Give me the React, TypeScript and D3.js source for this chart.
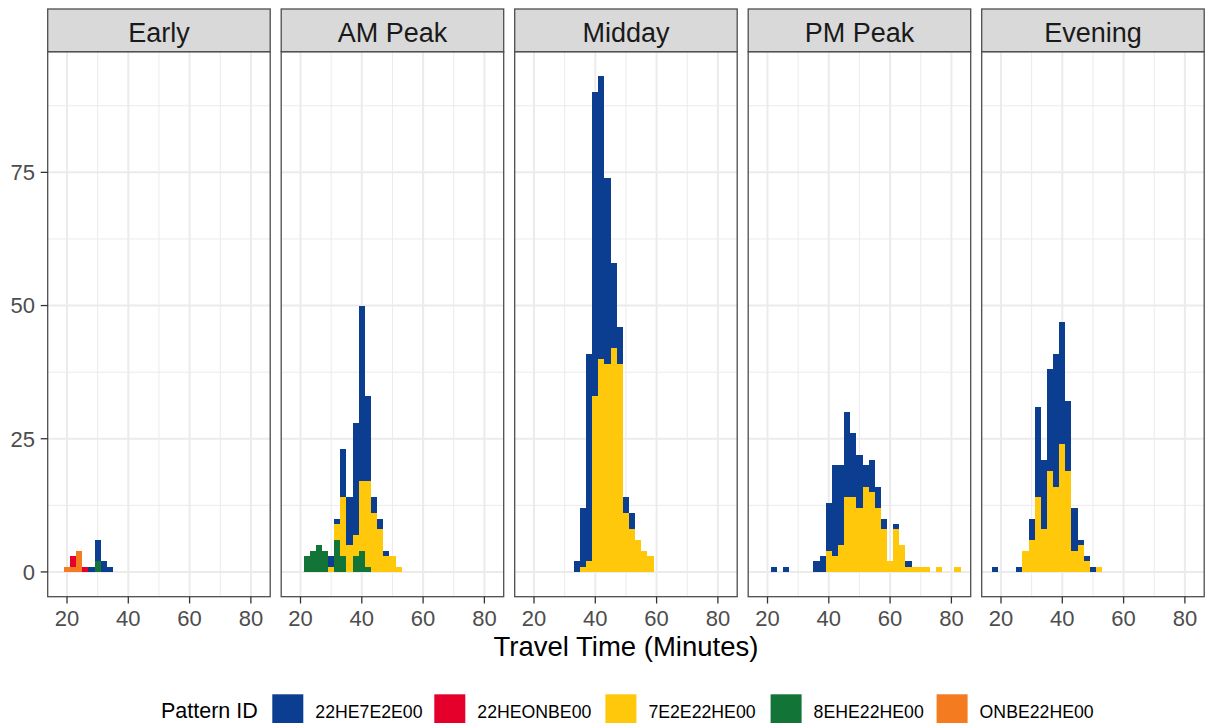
import React from "react";
import * as d3 from "d3";

// ---------- data ----------
const periods = ["Early", "AM Peak", "Midday", "PM Peak", "Evening"];
const patternIds = ["22HE7E2E00", "22HEONBE00", "7E2E22HE00", "8EHE22HE00", "ONBE22HE00"];
const patternColors = ["#0B3D91", "#E4002B", "#FFC80B", "#127437", "#F47B20"];

const binLowerEdges = [17, 19, 21, 23, 25, 27, 29, 31, 33, 35, 37, 39, 41, 43, 45, 47, 49, 51, 53, 55, 57, 59, 61, 63, 65, 67, 69, 71, 73, 75, 77, 79, 81];
const binWidth = 2;

const xMajorTicks = [20, 40, 60, 80];
const xMinorTicks = [30, 50, 70];
const yMajorTicks = [0, 25, 50, 75];
const yMinorTicks = [12.5, 37.5, 62.5, 87.5];

// counts: [bin lower edge, count]
const earlyCounts: Record<string, [number, number][]> = {
  "22HE7E2E00": [[27, 1], [29, 4], [31, 2], [33, 1]],
  "22HEONBE00": [[21, 2], [25, 1]],
  "7E2E22HE00": [],
  "8EHE22HE00": [[29, 2]],
  "ONBE22HE00": [[19, 1], [21, 1], [23, 4]],
};
const amPeakCounts: Record<string, [number, number][]> = {
  "22HE7E2E00": [[29, 2], [31, 1], [33, 9], [35, 9], [37, 21], [39, 33], [41, 16], [43, 3], [45, 2], [47, 1]],
  "22HEONBE00": [],
  "7E2E22HE00": [[29, 1], [31, 3], [33, 11], [35, 5], [37, 4], [39, 13], [41, 16], [43, 11], [45, 8], [47, 3], [49, 3], [51, 1]],
  "8EHE22HE00": [[21, 3], [23, 4], [25, 5], [27, 4], [31, 6], [33, 3], [37, 3], [39, 4], [41, 1]],
  "ONBE22HE00": [],
};
const middayCounts: Record<string, [number, number][]> = {
  "22HE7E2E00": [[33, 2], [35, 11], [37, 39], [39, 57], [41, 53], [43, 35], [45, 16], [47, 7], [49, 3], [51, 3]],
  "22HEONBE00": [],
  "7E2E22HE00": [[35, 1], [37, 2], [39, 33], [41, 40], [43, 39], [45, 42], [47, 39], [49, 11], [51, 8], [53, 6], [55, 4], [57, 3]],
  "8EHE22HE00": [],
  "ONBE22HE00": [],
};
const pmPeakCounts: Record<string, [number, number][]> = {
  "22HE7E2E00": [[21, 1], [25, 1], [35, 2], [37, 3], [39, 9], [41, 17], [43, 15], [45, 16], [47, 12], [49, 10], [51, 4], [53, 6], [55, 4], [57, 2], [61, 1], [65, 1]],
  "22HEONBE00": [],
  "7E2E22HE00": [[39, 4], [41, 3], [43, 5], [45, 14], [47, 14], [49, 12], [51, 16], [53, 15], [55, 12], [57, 8], [59, 2], [61, 8], [63, 5], [65, 1], [67, 1], [69, 1], [71, 1], [75, 1], [81, 1]],
  "8EHE22HE00": [],
  "ONBE22HE00": [],
};
const eveningCounts: Record<string, [number, number][]> = {
  "22HE7E2E00": [[17, 1], [25, 1], [29, 4], [31, 17], [33, 13], [35, 19], [37, 25], [39, 23], [41, 13], [43, 8], [45, 1], [47, 1], [49, 1]],
  "22HEONBE00": [],
  "7E2E22HE00": [[27, 4], [29, 6], [31, 14], [33, 8], [35, 19], [37, 16], [39, 24], [41, 19], [43, 4], [45, 5], [47, 2], [51, 1]],
  "8EHE22HE00": [],
  "ONBE22HE00": [],
};
const panelCounts = [earlyCounts, amPeakCounts, middayCounts, pmPeakCounts, eveningCounts];

// ---------- layout ----------
const W = 1206;
const H = 723;
const FONT = "'Liberation Sans', Arial, Helvetica, sans-serif";
const panelLeft0 = 47.7;
const panelW = 222.5;
const panelStep = 233.5;
const panelTop = 51.7;
const panelBottom = 596.7;
const stripTop = 9;
const legendTitleX = 161;
const legendKeyX = [272.3, 434.3, 605.4, 770.6, 936.6];
const legendKeySize = 31;
const legendKeyTop = 694.3;

function buildTable(counts: Record<string, [number, number][]>) {
  return binLowerEdges.map((b) => {
    const row: any = { bin: b };
    patternIds.forEach((p) => {
      const hit = counts[p].find((d) => d[0] === b);
      row[p] = hit ? hit[1] : 0;
    });
    return row;
  });
}

export default function App() {
  const tables = panelCounts.map(buildTable);
  const stackGen = d3.stack<any>().keys([...patternIds].reverse());
  const stacks = tables.map((t) => stackGen(t));

  const xLo = d3.min(binLowerEdges)!;
  const xHi = d3.max(binLowerEdges)! + binWidth;
  const xPad = (xHi - xLo) * 0.05;
  const yMax = d3.max(tables.flat(), (r: any) => d3.sum(patternIds, (p) => r[p]))!;
  const yScale = d3.scaleLinear().domain([-0.05 * yMax, yMax * 1.05]).range([panelBottom, panelTop]);

  const gridMajor = "#EBEBEB";
  const border = "#4D4D4D";

  return (
    <svg width={W} height={H} style={{ position: "absolute", left: 0, top: 0, background: "#fff" }} fontFamily={FONT}>
      <rect x={0} y={0} width={W} height={H} fill="#fff" />
      {periods.map((period, pi) => {
        const left = panelLeft0 + pi * panelStep;
        const xScale = d3.scaleLinear().domain([xLo - xPad, xHi + xPad]).range([left, left + panelW]);
        const colorOf = (key: string) => patternColors[patternIds.indexOf(key)];
        return (
          <g key={period}>
            {/* panel background & grid */}
            <rect x={left} y={panelTop} width={panelW} height={panelBottom - panelTop} fill="#fff" />
            {yMinorTicks.map((t) => (
              <line key={"ym" + t} x1={left} x2={left + panelW} y1={yScale(t)} y2={yScale(t)} stroke={gridMajor} strokeWidth={1} />
            ))}
            {xMinorTicks.map((t) => (
              <line key={"xm" + t} x1={xScale(t)} x2={xScale(t)} y1={panelTop} y2={panelBottom} stroke={gridMajor} strokeWidth={1} />
            ))}
            {yMajorTicks.map((t) => (
              <line key={"yM" + t} x1={left} x2={left + panelW} y1={yScale(t)} y2={yScale(t)} stroke={gridMajor} strokeWidth={2} />
            ))}
            {xMajorTicks.map((t) => (
              <line key={"xM" + t} x1={xScale(t)} x2={xScale(t)} y1={panelTop} y2={panelBottom} stroke={gridMajor} strokeWidth={2} />
            ))}
            {/* bars */}
            {stacks[pi].map((layer) => (
              <g key={layer.key} fill={colorOf(layer.key)} shapeRendering="crispEdges">
                {layer
                  .filter((d) => d[1] - d[0] > 0)
                  .map((d) => (
                    <rect
                      key={d.data.bin}
                      x={xScale(d.data.bin)}
                      width={xScale(d.data.bin + binWidth) - xScale(d.data.bin)}
                      y={yScale(d[1])}
                      height={yScale(d[0]) - yScale(d[1])}
                    />
                  ))}
              </g>
            ))}
            {/* border */}
            <rect x={left} y={panelTop} width={panelW} height={panelBottom - panelTop} fill="none" stroke={border} strokeWidth={1.3} />
            {/* strip */}
            <rect x={left} y={stripTop} width={panelW} height={panelTop - stripTop} fill="#D9D9D9" stroke={border} strokeWidth={1.3} />
            <text x={left + panelW / 2} y={41.5} textAnchor="middle" fontSize={27} fill="#1A1A1A">
              {period}
            </text>
            {/* x axis */}
            {xMajorTicks.map((t) => (
              <g key={"xt" + t}>
                <line x1={xScale(t)} x2={xScale(t)} y1={panelBottom} y2={panelBottom + 6.8} stroke="#333" strokeWidth={1.3} />
                <text x={xScale(t)} y={626} textAnchor="middle" fontSize={22} fill="#4D4D4D">
                  {t}
                </text>
              </g>
            ))}
          </g>
        );
      })}
      {/* y axis */}
      {yMajorTicks.map((t) => (
        <g key={"yt" + t}>
          <line x1={panelLeft0 - 7} x2={panelLeft0} y1={yScale(t)} y2={yScale(t)} stroke="#333" strokeWidth={1.3} />
          <text x={35} y={yScale(t) + 7.9} textAnchor="end" fontSize={22} fill="#4D4D4D">
            {t}
          </text>
        </g>
      ))}
      {/* axis title */}
      <text x={(panelLeft0 + panelLeft0 + 4 * panelStep + panelW) / 2} y={656} textAnchor="middle" fontSize={27.5} fill="#000">
        Travel Time (Minutes)
      </text>
      {/* legend */}
      <text x={legendTitleX} y={718} fontSize={21.5} fill="#000">
        Pattern ID
      </text>
      {patternIds.map((p, i) => (
        <g key={p}>
          <rect x={legendKeyX[i]} y={legendKeyTop} width={legendKeySize} height={legendKeySize} fill={patternColors[i]} />
          <text x={legendKeyX[i] + legendKeySize + 12} y={718} fontSize={17.7} fill="#000">
            {p}
          </text>
        </g>
      ))}
    </svg>
  );
}
